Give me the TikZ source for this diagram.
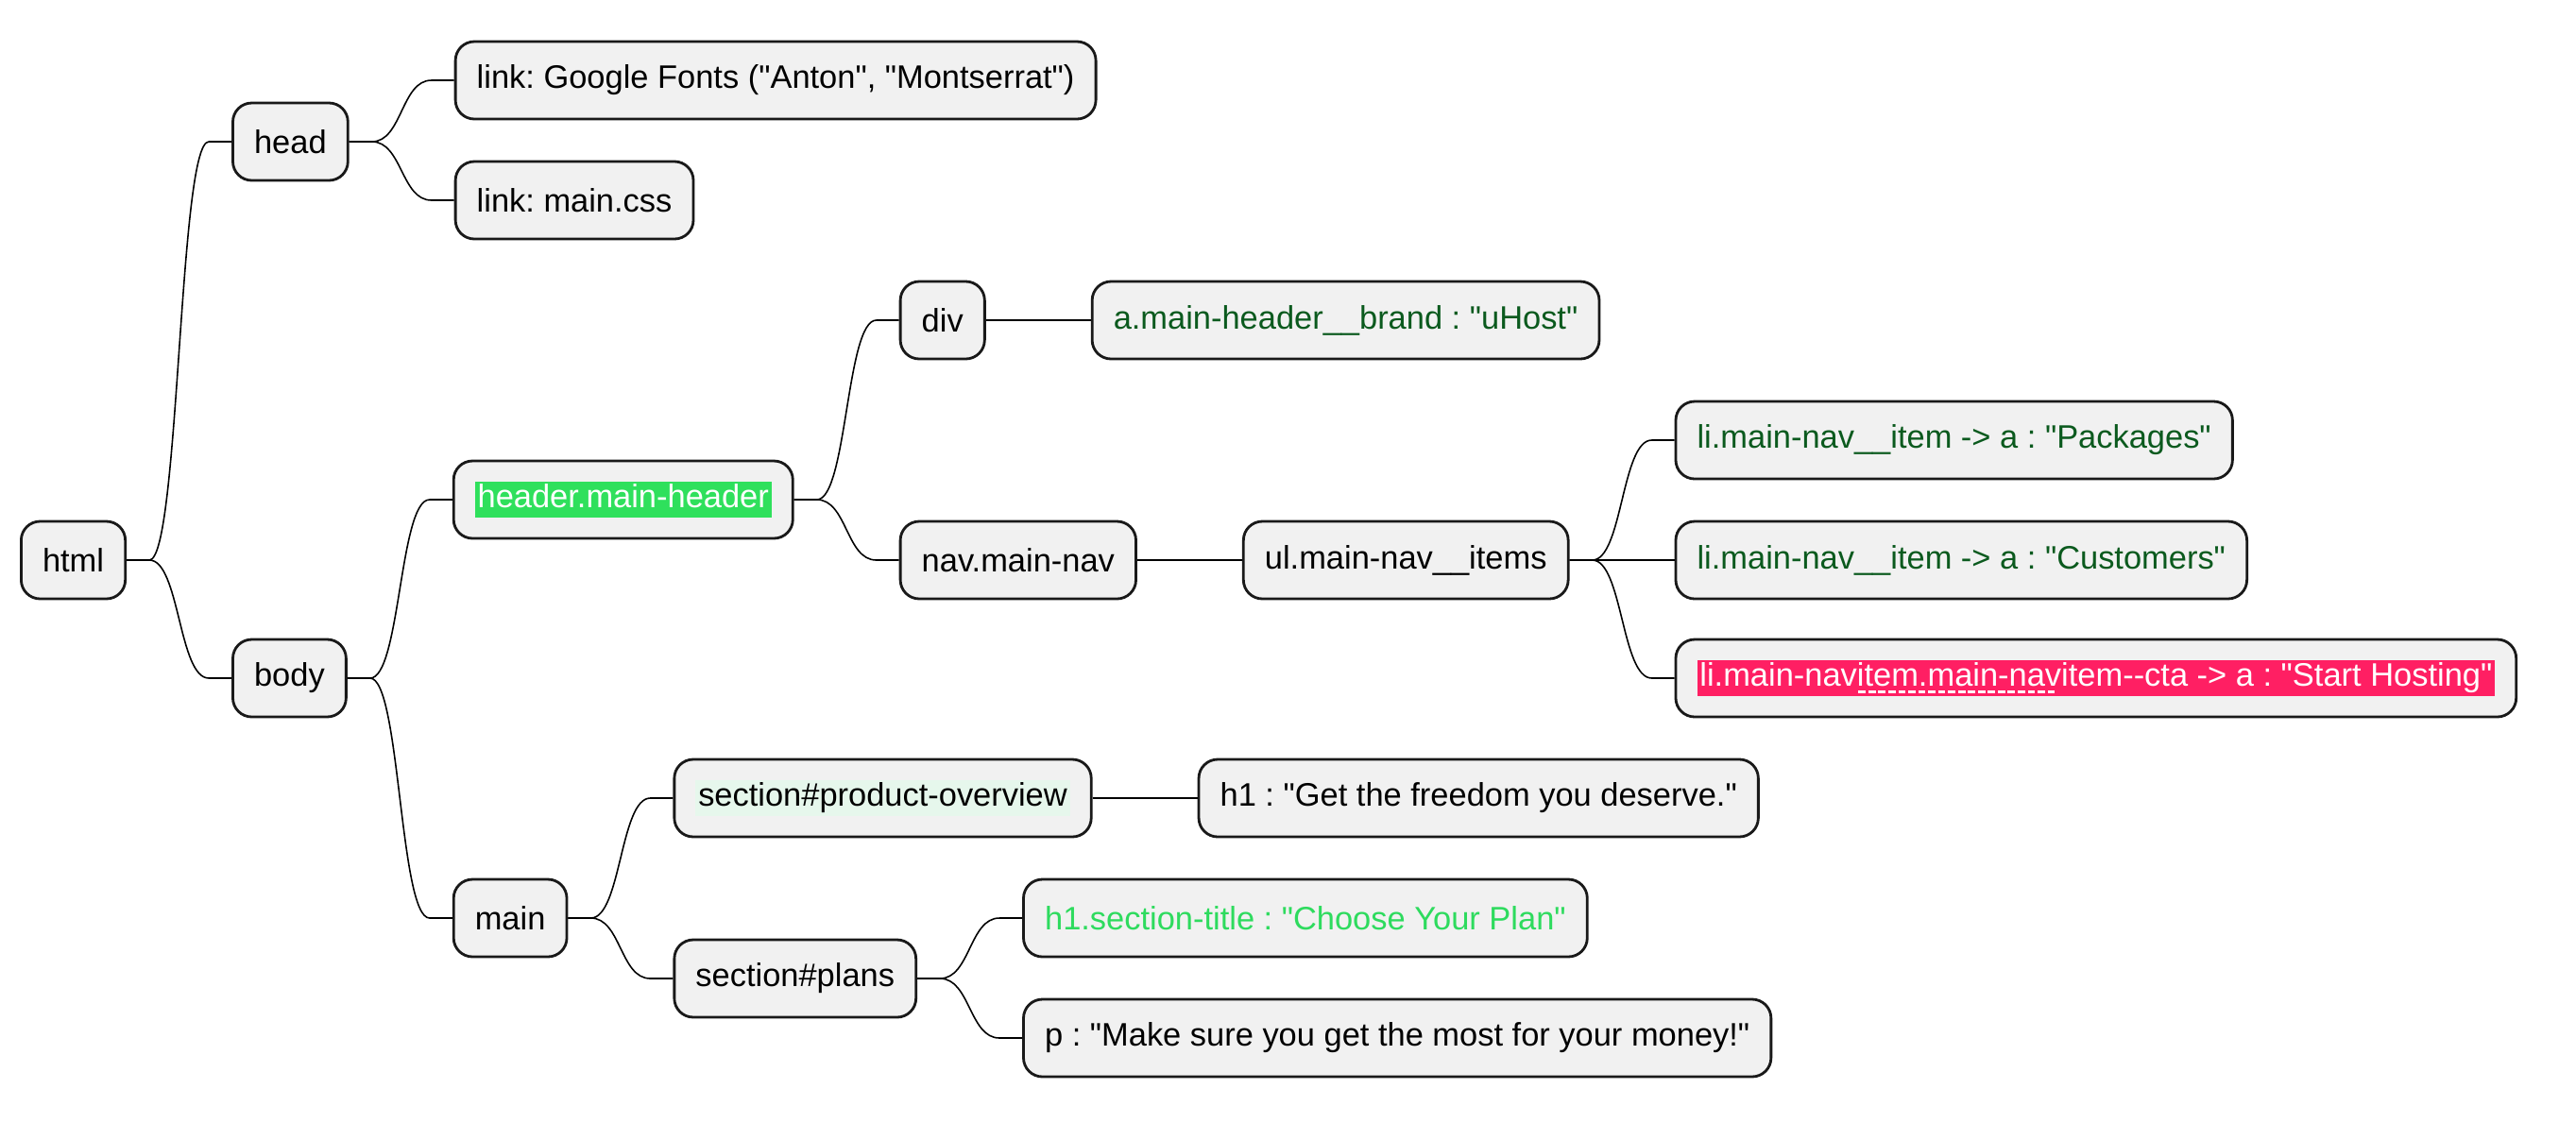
\documentclass[tikz,border=0pt]{standalone}
\usepackage{fontspec}
\setmainfont{Liberation Sans}[Ligatures=TeXOff]
\usetikzlibrary{calc}
\definecolor{boxfill}{HTML}{F1F1F1}
\definecolor{dkgreen}{HTML}{0B5A1E}
\definecolor{ltgreen}{HTML}{2EDB5E}
\definecolor{hdrgreen}{HTML}{2FE05C}
\definecolor{pinkbg}{HTML}{FF1F63}
\definecolor{palegreen}{HTML}{E6F7EC}
\newcommand\hlbox[2]{{\setlength{\fboxsep}{0.8pt}\colorbox{#1}{\vphantom{lg}#2}}}
\newsavebox\dulbox
\newcommand\dul[1]{\sbox\dulbox{#1}\rlap{\raisebox{-1.9pt}{\hbox to \wd\dulbox{\leaders\hbox to 3pt{\hss\rule{2.2pt}{0.75pt}\hss}\hfill}}}\usebox\dulbox}
\frenchspacing
\begin{document}
\begin{tikzpicture}[
  box/.style={draw=black!90, fill=boxfill, line width=0.8pt, rounded corners=0.2cm,
    minimum height=0.82cm, inner xsep=0.226cm, inner ysep=0pt, anchor=west,
    font=\fontsize{9.8}{12}\selectfont},
  branch/.style={line width=0.45pt, to path={-- ++(0.24,0) .. controls +(0.32,0) and +(-0.32,0) .. ($(\tikztotarget)+(-0.24,0)$) -- (\tikztotarget)}}
]
\useasboundingbox (0,0) rectangle (27.27,-11.88);
\node[box] (html) at (0.21,-5.93) {html};
\node[box] (head) at ([shift={(1.11,4.43)}]html.east) {head};
\node[box] (body) at ([shift={(1.11,-1.25)}]html.east) {body};
\node[box] (gf) at ([shift={(1.11,0.65)}]head.east) {link: Google Fonts ("Anton", "Montserrat")};
\node[box] (css) at ([shift={(1.11,-0.62)}]head.east) {link: main.css};
\node[box] (header) at ([shift={(1.11,1.89)}]body.east) {\hlbox{hdrgreen}{\color{white}header.main-header}};
\node[box] (main) at ([shift={(1.11,-2.54)}]body.east) {main};
\node[box] (div) at ([shift={(1.11,1.90)}]header.east) {div};
\node[box, text=dkgreen] (brand) at ([shift={(1.11,0)}]div.east) {a.main-header\_\_brand : "uHost"};
\node[box] (nav) at ([shift={(1.11,-0.64)}]header.east) {nav.main-nav};
\node[box] (ul) at ([shift={(1.11,0)}]nav.east) {ul.main-nav\_\_items};
\node[box, text=dkgreen] (pack) at ([shift={(1.11,1.27)}]ul.east) {li.main-nav\_\_item -> a : "Packages"};
\node[box, text=dkgreen] (cust) at ([shift={(1.11,0)}]ul.east) {li.main-nav\_\_item -> a : "Customers"};
\node[box] (cta) at ([shift={(1.11,-1.25)}]ul.east) {\hlbox{pinkbg}{\color{white}li.main-nav\dul{item.main-nav}item--cta -> a : "Start Hosting"}};
\node[box] (prodov) at ([shift={(1.11,1.27)}]main.east) {\hlbox{palegreen}{section\#product-overview}};
\node[box] (freedom) at ([shift={(1.11,0)}]prodov.east) {h1 : "Get the freedom you deserve."};
\node[box] (plans) at ([shift={(1.11,-0.64)}]main.east) {section\#plans};
\node[box, text=ltgreen] (title) at ([shift={(1.11,0.64)}]plans.east) {h1.section-title : "Choose Your Plan"};
\node[box] (p) at ([shift={(1.11,-0.63)}]plans.east) {p : "Make sure you get the most for your money!"};
\draw[branch] (html.east) to (head.west);
\draw[branch] (html.east) to (body.west);
\draw[branch] (head.east) to (gf.west);
\draw[branch] (head.east) to (css.west);
\draw[branch] (body.east) to (header.west);
\draw[branch] (body.east) to (main.west);
\draw[branch] (header.east) to (div.west);
\draw[branch] (header.east) to (nav.west);
\draw[branch] (div.east) to (brand.west);
\draw[branch] (nav.east) to (ul.west);
\draw[branch] (ul.east) to (pack.west);
\draw[branch] (ul.east) to (cust.west);
\draw[branch] (ul.east) to (cta.west);
\draw[branch] (main.east) to (prodov.west);
\draw[branch] (main.east) to (plans.west);
\draw[branch] (prodov.east) to (freedom.west);
\draw[branch] (plans.east) to (title.west);
\draw[branch] (plans.east) to (p.west);
\end{tikzpicture}
\end{document}
